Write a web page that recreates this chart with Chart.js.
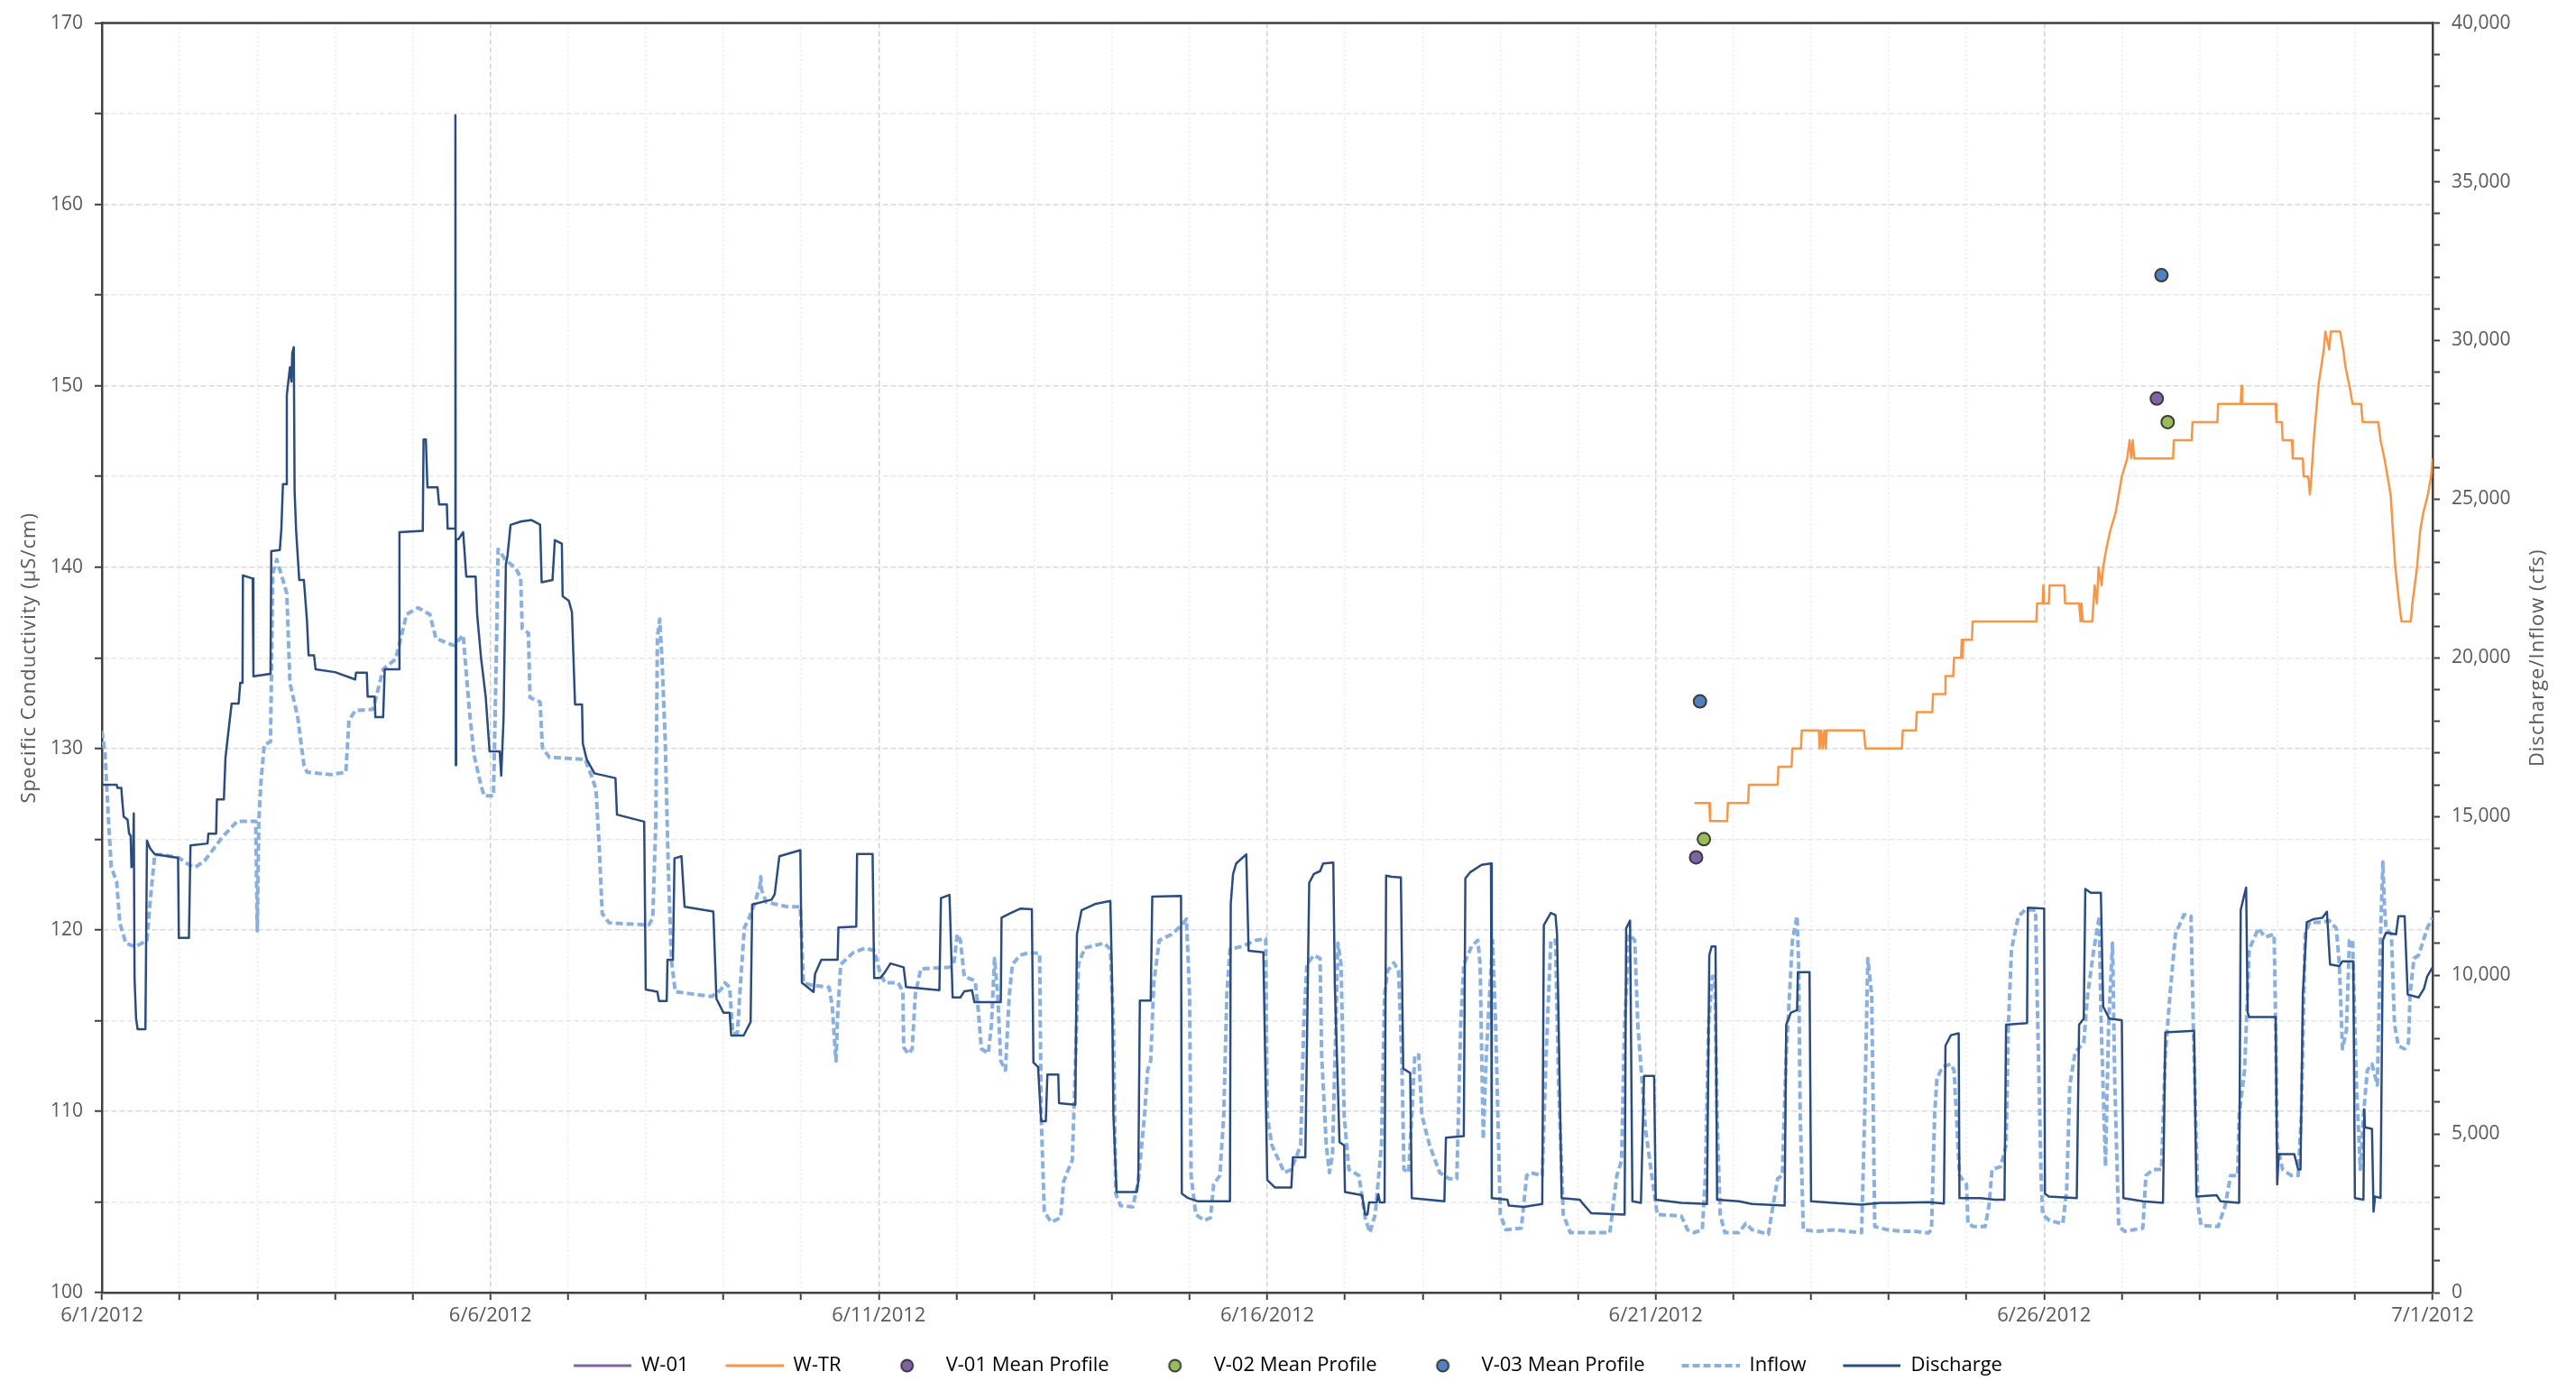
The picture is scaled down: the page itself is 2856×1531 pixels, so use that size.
<!DOCTYPE html>
<html>
<head>
<meta charset="utf-8">
<script src="https://cdn.jsdelivr.net/npm/chart.js@4.4.1/dist/chart.umd.min.js"></script>
<style>
html,body{margin:0;padding:0;background:#ffffff;}
#wrap{width:2856px;height:1531px;}
</style>
</head>
<body>
<div id="wrap"><canvas id="c" width="2856" height="1531" style="width:2856px;height:1531px"></canvas></div>
<script>
// ---------------- data (x = days after 6/1/2012 00:00) ----------------
const dateLabels = ['6/1/2012','6/6/2012','6/11/2012','6/16/2012','6/21/2012','6/26/2012','7/1/2012'];
const leftTitle = 'Specific Conductivity (\u00B5S/cm)';
const rightTitle = 'Discharge/Inflow (cfs)';
const seriesNames = ['W-01','W-TR','V-01 Mean Profile','V-02 Mean Profile','V-03 Mean Profile','Inflow','Discharge'];

// W-01 has no readable data in the chart
const w01 = [];

// W-TR specific conductivity (uS/cm)
const wtr = [
[20.5,127],[20.69,127],[20.7,126],[20.92,126],[20.93,127],[21.19,127],[21.2,128],[21.57,128],[21.58,129],[21.75,129],
[21.76,130],[21.87,130],[21.88,131],[22.1,131],[22.11,130],[22.13,131],[22.15,130],[22.17,131],[22.19,130],[22.2,131],
[22.68,131],[22.7,130],[23.17,130],[23.18,131],[23.35,131],[23.36,132],[23.56,132],[23.57,133],[23.72,133],[23.73,134],
[23.83,134],[23.84,135],[23.93,135],[23.94,136],[23.95,135],[23.96,136],[24.07,136],[24.08,137],[24.9,137],[24.91,138],
[24.98,138],[24.99,139],[25.0,138],[25.06,138],[25.07,139],[25.26,139],[25.27,138],[25.45,138],[25.47,137],[25.48,138],
[25.5,137],[25.62,137],[25.65,139],[25.68,138],[25.7,140],[25.74,139],[25.76,140],[25.8,141],[25.85,142],[25.92,143],
[25.96,144],[26.0,145],[26.07,146],[26.1,147],[26.12,146],[26.14,147],[26.16,146],[26.66,146],[26.67,147],[26.9,147],
[26.91,148],[27.23,148],[27.24,149],[27.53,149],[27.54,150],[27.55,149],[27.98,149],[27.99,148],[28.06,148],[28.07,147],
[28.19,147],[28.2,146],[28.33,146],[28.34,145],[28.4,145],[28.42,144],[28.44,145],[28.47,147],[28.53,150],[28.6,152],
[28.62,153],[28.67,152],[28.69,153],[28.81,153],[28.85,152],[28.88,151],[28.93,150],[28.97,149],[29.08,149],[29.1,148],
[29.3,148],[29.33,147],[29.38,146],[29.42,145],[29.46,144],[29.49,142],[29.52,140],[29.57,138],[29.6,137],[29.72,137],
[29.74,138],[29.8,140],[29.84,142],[29.88,143],[29.94,144],[29.98,145],[30.0,146]
];

// Vertical mean profiles (uS/cm)
const v01 = [[20.52,124.0],[26.45,149.3]];
const v02 = [[20.62,125.0],[26.59,148.0]];
const v03 = [[20.57,132.6],[26.51,156.1]];

// Inflow (cfs)
const inflow = [
[0,17700],[0.04,17000],[0.08,15100],[0.12,13400],[0.19,12950],[0.23,11650],[0.31,11000],[0.43,10900],[0.58,11100],[0.62,12300],
[0.68,13800],[0.78,13800],[0.99,13700],[1.12,13480],[1.2,13400],[1.32,13600],[1.55,14350],[1.74,14850],[1.98,14850],[2.0,11400],
[2.02,14900],[2.05,16180],[2.09,17260],[2.17,17360],[2.2,22660],[2.25,23100],[2.33,22450],[2.38,22020],[2.42,19210],[2.52,18130],
[2.6,16620],[2.64,16400],[2.95,16320],[3.14,16400],[3.18,18020],[3.26,18340],[3.49,18380],[3.62,19640],[3.78,19960],[3.88,20940],
[3.92,21370],[4.07,21580],[4.22,21370],[4.3,20610],[4.53,20390],[4.65,20720],[4.73,18340],[4.79,16940],[4.88,15970],[4.92,15650],
[5.04,15650],[5.08,20500],[5.1,23420],[5.19,23100],[5.33,22810],[5.39,22520],[5.41,20930],[5.49,20780],[5.51,18750],[5.64,18610],
[5.67,17160],[5.76,16870],[6.22,16800],[6.3,16290],[6.36,15850],[6.4,14110],[6.44,11940],[6.53,11650],[7.04,11580],[7.09,11800],
[7.13,14840],[7.15,20640],[7.18,21220],[7.21,19920],[7.25,17450],[7.29,13390],[7.33,10490],[7.38,9480],[7.85,9330],[7.97,9550],
[8.02,9760],[8.08,9620],[8.12,8170],[8.18,8170],[8.22,9760],[8.27,11500],[8.33,11800],[8.4,12250],[8.47,12810],[8.48,13100],
[8.49,12700],[8.55,12300],[8.82,12160],[8.99,12160],[9.03,9760],[9.13,9690],[9.36,9620],[9.4,9040],[9.44,7590],[9.45,7300],
[9.47,8750],[9.51,10340],[9.67,10710],[9.82,10850],[9.94,10780],[10.02,10050],[10.08,9760],[10.25,9760],[10.31,9480],[10.32,7730],
[10.38,7520],[10.43,7680],[10.47,9390],[10.54,10200],[10.91,10250],[10.97,10440],[11.01,11290],[11.05,11100],[11.1,9960],[11.24,9820],
[11.28,8920],[11.32,7680],[11.41,7540],[11.45,8440],[11.49,10530],[11.53,9390],[11.57,7300],[11.63,7010],[11.68,9390],[11.72,10340],
[11.82,10630],[11.95,10720],[12.07,10680],[12.09,5590],[12.13,2550],[12.22,2220],[12.34,2360],[12.38,3500],[12.44,3880],[12.49,4170],
[12.51,5590],[12.57,10340],[12.65,10860],[12.9,11010],[12.98,10820],[13.02,8440],[13.05,3120],[13.11,2740],[13.27,2700],[13.34,3500],
[13.42,5590],[13.46,7010],[13.5,7300],[13.54,9770],[13.61,11100],[13.77,11290],[13.9,11580],[13.96,11770],[14.0,9390],[14.02,3690],
[14.08,2460],[14.19,2270],[14.27,2360],[14.31,3410],[14.39,3690],[14.44,5590],[14.48,9390],[14.52,10820],[14.68,10910],[14.85,11100],
[14.98,11150],[15.0,5590],[15.06,4640],[15.22,3780],[15.31,3880],[15.43,4640],[15.47,8440],[15.51,10340],[15.6,10630],[15.68,10530],
[15.7,7490],[15.76,4640],[15.8,3780],[15.84,4350],[15.91,11010],[15.95,10340],[15.99,5590],[16.05,3880],[16.18,3690],[16.26,2360],
[16.32,1890],[16.39,2460],[16.47,4640],[16.51,9390],[16.55,10150],[16.63,10390],[16.69,10150],[16.73,7490],[16.76,3880],[16.82,3780],
[16.86,5590],[16.9,7490],[16.95,7490],[16.99,5590],[17.09,4640],[17.22,3780],[17.34,3590],[17.44,3590],[17.49,8440],[17.53,10340],
[17.63,10910],[17.71,11100],[17.74,10340],[17.78,4830],[17.82,7490],[17.9,11100],[17.94,8440],[18.0,2460],[18.07,1980],[18.27,2030],
[18.34,3690],[18.38,3780],[18.54,3690],[18.59,7490],[18.65,11100],[18.71,11100],[18.75,6540],[18.81,2460],[18.9,1890],[19.41,1890],
[19.5,3690],[19.56,4160],[19.6,8440],[19.66,11290],[19.73,11100],[19.77,8440],[19.87,5120],[19.95,3690],[20.02,2460],[20.33,2410],
[20.41,1980],[20.49,1890],[20.6,1980],[20.64,3690],[20.68,8440],[20.73,9960],[20.76,9960],[20.79,5590],[20.83,2460],[20.89,1890],
[21.07,1890],[21.16,2180],[21.24,1980],[21.45,1840],[21.51,2740],[21.57,3590],[21.63,3690],[21.68,7490],[21.76,11100],[21.82,11860],
[21.84,10340],[21.86,5590],[21.9,1980],[22.07,1930],[22.32,1980],[22.48,1930],[22.65,1890],[22.69,5590],[22.73,10530],[22.78,9390],
[22.82,2080],[22.98,1980],[23.17,1930],[23.33,1930],[23.51,1880],[23.55,1980],[23.59,5590],[23.62,6730],[23.69,7110],[23.8,7200],
[23.84,7010],[23.87,5590],[23.91,3690],[24.0,3410],[24.02,2170],[24.09,2080],[24.24,2080],[24.29,2740],[24.33,3880],[24.44,3970],
[24.51,4640],[24.54,8440],[24.58,10820],[24.67,11860],[24.76,12070],[24.89,12050],[24.91,9390],[24.96,3690],[24.98,2460],[25.07,2270],
[25.24,2170],[25.29,3220],[25.33,6540],[25.4,7580],[25.51,7870],[25.56,9390],[25.64,10820],[25.71,11860],[25.73,8820],[25.79,3970],
[25.83,8440],[25.88,11010],[25.91,6540],[25.96,2080],[26.04,1930],[26.27,2030],[26.31,3690],[26.4,3880],[26.51,3880],[26.56,7490],
[26.62,9390],[26.69,11290],[26.8,11910],[26.89,11860],[26.92,8440],[26.98,2740],[27.02,2120],[27.24,2080],[27.33,2740],[27.4,3690],
[27.49,3690],[27.51,5590],[27.58,7010],[27.64,10820],[27.76,11480],[27.84,11200],[27.96,11290],[27.98,8440],[28.0,4640],[28.07,3880],
[28.18,3690],[28.27,3690],[28.31,5590],[28.36,11290],[28.42,11670],[28.58,11670],[28.67,11720],[28.76,11480],[28.8,10340],[28.84,7680],
[28.89,8250],[28.93,11100],[28.97,11100],[29.02,6540],[29.07,3880],[29.11,5590],[29.16,7010],[29.22,7200],[29.29,6540],[29.33,11290],
[29.36,13570],[29.38,12200],[29.4,11480],[29.47,11290],[29.51,8440],[29.56,7770],[29.64,7680],[29.69,7870],[29.71,9390],[29.76,10530],
[29.82,10630],[29.87,11010],[29.93,11480],[30.0,11810]
];

// Discharge (cfs)
const discharge = [
[0,16000],[0.19,16000],[0.2,15900],[0.25,15900],[0.26,15540],[0.28,15000],[0.33,14900],[0.35,14460],[0.37,14400],[0.38,13400],
[0.4,13500],[0.41,15100],[0.42,9900],[0.44,8620],[0.46,8300],[0.56,8300],[0.58,14240],[0.62,14000],[0.68,13810],[0.98,13700],
[0.99,11180],[1.12,11180],[1.14,14090],[1.36,14150],[1.37,14460],[1.47,14460],[1.48,15540],[1.57,15540],[1.59,16840],[1.62,17500],
[1.67,18560],[1.76,18560],[1.78,19210],[1.81,19210],[1.815,22600],[1.94,22500],[1.95,19420],[2.17,19500],[2.18,23360],[2.29,23400],
[2.31,24070],[2.33,25470],[2.37,25470],[2.38,28280],[2.42,29150],[2.44,28700],[2.45,29600],[2.47,29790],[2.48,25260],[2.5,24000],
[2.54,22450],[2.6,22450],[2.64,21150],[2.66,20080],[2.73,20080],[2.75,19640],[3.0,19550],[3.26,19320],[3.27,19530],[3.41,19530],
[3.42,18780],[3.51,18780],[3.52,18130],[3.62,18130],[3.64,19640],[3.82,19640],[3.83,23960],[4.13,24000],[4.14,26880],[4.17,26880],
[4.19,25370],[4.32,25370],[4.34,24830],[4.44,24830],[4.45,24070],[4.545,24070],[4.55,37100],[4.555,16620],[4.56,23740],[4.59,23740],
[4.65,23960],[4.69,22560],[4.81,22560],[4.83,21370],[4.88,20000],[4.94,18780],[4.99,17050],[5.12,17050],[5.14,16290],[5.17,18100],
[5.2,22960],[5.22,23200],[5.26,24190],[5.4,24300],[5.53,24340],[5.64,24200],[5.66,22380],[5.8,22450],[5.83,23710],[5.92,23600],
[5.93,21940],[6.01,21800],[6.05,21440],[6.09,18530],[6.18,18530],[6.19,17300],[6.24,16800],[6.34,16360],[6.61,16210],[6.63,15060],
[6.98,14840],[7.0,9550],[7.15,9480],[7.17,9190],[7.27,9190],[7.28,10490],[7.35,10490],[7.37,13680],[7.46,13750],[7.5,12160],
[7.87,12010],[7.91,9260],[8.0,8820],[8.08,8820],[8.1,8100],[8.26,8100],[8.35,8530],[8.37,12230],[8.62,12380],[8.66,12550],
[8.72,13750],[8.99,13940],[9.01,9760],[9.16,9470],[9.18,10050],[9.26,10490],[9.47,10490],[9.48,11500],[9.71,11530],[9.72,13820],
[9.92,13820],[9.94,9910],[10.02,9910],[10.08,10100],[10.15,10370],[10.32,10250],[10.35,9630],[10.78,9530],[10.8,12430],[10.91,12530],
[10.95,9300],[11.05,9300],[11.1,9490],[11.2,9530],[11.23,9150],[11.57,9150],[11.58,11810],[11.7,11960],[11.82,12100],[11.97,12080],
[11.99,7250],[12.05,7110],[12.09,5400],[12.15,5400],[12.17,6870],[12.31,6870],[12.32,5970],[12.53,5920],[12.55,11290],[12.61,12050],
[12.78,12240],[12.98,12340],[13.0,10150],[13.02,5590],[13.06,3170],[13.32,3170],[13.34,3500],[13.36,9200],[13.5,9200],[13.52,12480],
[13.89,12500],[13.9,3120],[13.98,2980],[14.1,2880],[14.52,2880],[14.53,12240],[14.56,13190],[14.6,13520],[14.73,13810],[14.76,10770],
[14.95,10720],[15.0,3550],[15.1,3310],[15.31,3310],[15.33,4260],[15.49,4260],[15.54,12910],[15.6,13190],[15.68,13280],[15.72,13520],
[15.85,13550],[15.87,9680],[15.93,4740],[15.99,4640],[16.0,3170],[16.22,3070],[16.26,2460],[16.29,2460],[16.31,2840],[16.41,2840],
[16.43,3100],[16.45,2840],[16.51,2840],[16.53,13140],[16.6,13100],[16.72,13080],[16.75,7060],[16.84,6920],[16.86,2980],[17.28,2880],
[17.3,4880],[17.53,4930],[17.55,13050],[17.61,13240],[17.76,13480],[17.88,13520],[17.89,2980],[18.09,2930],[18.11,2740],[18.3,2700],
[18.54,2790],[18.56,11580],[18.65,11960],[18.71,11900],[18.73,11290],[18.79,2980],[19.02,2930],[19.05,2840],[19.17,2500],[19.6,2460],
[19.62,11480],[19.67,11720],[19.7,2880],[19.81,2830],[19.85,6830],[19.98,6830],[20.0,2930],[20.33,2830],[20.66,2790],[20.69,10630],
[20.72,10910],[20.77,10910],[20.79,2930],[21.07,2880],[21.24,2790],[21.66,2740],[21.68,8440],[21.74,8820],[21.82,8900],[21.83,10100],
[21.98,10100],[22.0,2880],[22.28,2830],[22.65,2770],[22.9,2830],[23.07,2830],[23.51,2850],[23.71,2810],[23.73,7780],[23.8,8110],
[23.9,8170],[23.91,2980],[24.18,2980],[24.36,2930],[24.49,2930],[24.51,8440],[24.78,8490],[24.79,12130],[25.0,12100],[25.01,3120],
[25.06,3030],[25.42,2980],[25.45,8440],[25.51,8630],[25.53,12720],[25.6,12600],[25.73,12600],[25.76,9010],[25.84,8630],[26.0,8580],
[26.02,2980],[26.27,2880],[26.53,2830],[26.56,8200],[26.93,8250],[26.96,3030],[27.22,3070],[27.27,2880],[27.51,2830],[27.53,12050],
[27.58,12570],[27.6,12760],[27.62,8820],[27.64,8680],[27.98,8680],[28.0,3410],[28.02,4360],[28.22,4360],[28.27,3880],[28.3,3880],
[28.33,9390],[28.38,11670],[28.47,11770],[28.58,11810],[28.64,12000],[28.68,10340],[28.8,10290],[28.84,10440],[28.98,10440],[29.0,2980],
[29.11,2930],[29.12,5780],[29.13,5210],[29.22,5160],[29.24,2550],[29.26,3030],[29.33,2980],[29.36,11100],[29.4,11340],[29.53,11290],
[29.56,11860],[29.64,11860],[29.68,9390],[29.82,9300],[29.89,9580],[29.93,9960],[30.0,10250]
];

// ---------------- chart ----------------
const FONT = "'Open Sans', 'DejaVu Sans', sans-serif";
const TEXT = '#595959';
const AXIS = '#404040';
const SW = 64;      // legend swatch length
const GAP = 21;     // extra space before each legend swatch
const toXY = arr => arr.map(p => ({x: p[0], y: p[1]}));

function lineSwatch(color, width, dash) {
  const c = document.createElement('canvas');
  c.width = SW + GAP; c.height = 8;
  const g = c.getContext('2d');
  g.strokeStyle = color; g.lineWidth = width; g.setLineDash(dash || []);
  g.beginPath(); g.moveTo(GAP, 4); g.lineTo(GAP + SW, 4); g.stroke();
  return c;
}
function dotSwatch(fill) {
  const c = document.createElement('canvas');
  c.width = SW + GAP; c.height = 20;
  const g = c.getContext('2d');
  g.fillStyle = fill; g.strokeStyle = '#3a3a3a'; g.lineWidth = 2;
  g.beginPath(); g.arc(GAP + SW / 2, 10, 6.5, 0, Math.PI * 2); g.fill(); g.stroke();
  return c;
}

const COLORS = {
  w01: '#8064A2', wtr: '#F79646', v01: '#7E63A6', v02: '#9BBB59', v03: '#4F81BD',
  inflow: '#8AB0E0', discharge: '#2B4C7E'
};

const legendSwatches = [
  lineSwatch(COLORS.w01, 3), lineSwatch(COLORS.wtr, 3),
  dotSwatch(COLORS.v01), dotSwatch(COLORS.v02), dotSwatch(COLORS.v03),
  lineSwatch(COLORS.inflow, 4, [8, 4]), lineSwatch(COLORS.discharge, 3)
];

const frameAndTitles = {
  id: 'frameAndTitles',
  afterDraw(chart) {
    const {ctx, chartArea: a} = chart;
    ctx.save();
    ctx.strokeStyle = AXIS; ctx.lineWidth = 2.5;
    ctx.beginPath(); ctx.moveTo(a.left, a.top); ctx.lineTo(a.right, a.top); ctx.stroke();
    const cy = (a.top + a.bottom) / 2;
    ctx.fillStyle = TEXT;
    ctx.font = "22px " + FONT;
    try { ctx.letterSpacing = '1px'; } catch (e) {}
    ctx.textAlign = 'center'; ctx.textBaseline = 'middle';
    ctx.save(); ctx.translate(a.left - 80, cy); ctx.rotate(-Math.PI / 2); ctx.fillText(leftTitle, 0, 0); ctx.restore();
    ctx.save(); ctx.translate(a.right + 117, cy); ctx.rotate(-Math.PI / 2); ctx.fillText(rightTitle, 0, 0); ctx.restore();
    ctx.restore();
  }
};

const xGridColor = c => (c.tick && Math.round(c.tick.value) % 5 === 0) ? '#D2D2DA' : '#E6EBEE';
const xGridDash = c => (c.tick && Math.round(c.tick.value) % 5 === 0) ? [6, 3] : [2, 3];
const yGridColor = c => (c.tick && Math.round(c.tick.value) % 10 === 0) ? '#DDD6DF' : '#E3EAED';

new Chart(document.getElementById('c'), {
  type: 'line',
  data: {
    datasets: [
      {label: seriesNames[0], data: toXY(w01), borderColor: COLORS.w01, borderWidth: 2.5, pointRadius: 0, yAxisID: 'y', order: 5},
      {label: seriesNames[1], data: toXY(wtr), borderColor: COLORS.wtr, borderWidth: 2.5, pointRadius: 0, yAxisID: 'y', order: 4, borderJoinStyle: 'round'},
      {type: 'scatter', label: seriesNames[2], data: toXY(v01), backgroundColor: COLORS.v01, borderColor: '#3a3a3a', borderWidth: 2, pointRadius: 7, yAxisID: 'y', order: 0},
      {type: 'scatter', label: seriesNames[3], data: toXY(v02), backgroundColor: COLORS.v02, borderColor: '#3a3a3a', borderWidth: 2, pointRadius: 7, yAxisID: 'y', order: 0},
      {type: 'scatter', label: seriesNames[4], data: toXY(v03), backgroundColor: COLORS.v03, borderColor: '#3a3a3a', borderWidth: 2, pointRadius: 7, yAxisID: 'y', order: 0},
      {label: seriesNames[5], data: toXY(inflow), borderColor: COLORS.inflow, borderWidth: 4, borderDash: [8, 4], pointRadius: 0, yAxisID: 'y1', order: 3, borderJoinStyle: 'round'},
      {label: seriesNames[6], data: toXY(discharge), borderColor: COLORS.discharge, borderWidth: 2.5, pointRadius: 0, yAxisID: 'y1', order: 2, borderJoinStyle: 'round'}
    ]
  },
  options: {
    responsive: false,
    devicePixelRatio: 1,
    animation: false,
    events: [],
    parsing: false,
    layout: {padding: {top: 21, left: 0, right: GAP, bottom: 0}},
    plugins: {
      tooltip: {enabled: false},
      legend: {
        position: 'bottom',
        maxHeight: 48,
        labels: {
          usePointStyle: true,
          pointStyleWidth: SW + GAP,
          boxHeight: 22,
          padding: 20,
          color: TEXT,
          font: {family: FONT, size: 22},
          generateLabels: () => seriesNames.map((name, i) => ({
            text: name, pointStyle: legendSwatches[i], fillStyle: 'rgba(0,0,0,0)',
            strokeStyle: 'rgba(0,0,0,0)', lineWidth: 0, hidden: false, datasetIndex: i
          }))
        }
      }
    },
    scales: {
      x: {
        type: 'linear', position: 'bottom', min: 0, max: 30,
        ticks: {
          stepSize: 1, maxTicksLimit: 31, autoSkip: false, maxRotation: 0, padding: 5,
          color: TEXT, font: {family: FONT, size: 22},
          callback: v => (Math.round(v) % 5 === 0) ? dateLabels[Math.round(v) / 5] : ''
        },
        grid: {color: xGridColor, lineWidth: 1.5, tickLength: 8, tickColor: AXIS, tickWidth: 2},
        border: {display: true, color: AXIS, width: 2.5, dash: xGridDash},
        afterFit: s => { s.height = 50; }
      },
      y: {
        type: 'linear', position: 'left', min: 100, max: 170,
        ticks: {
          stepSize: 5, maxTicksLimit: 15, autoSkip: false, padding: 13,
          color: TEXT, font: {family: FONT, size: 21},
          callback: v => (Math.round(v) % 10 === 0) ? String(Math.round(v)) : ''
        },
        grid: {color: yGridColor, lineWidth: 1.5, tickLength: 8, tickColor: AXIS, tickWidth: 2},
        border: {display: true, color: AXIS, width: 2.5, dash: [6, 3]},
        afterFit: s => { s.width = 113; }
      },
      y1: {
        type: 'linear', position: 'right', min: 0, max: 40000,
        ticks: {
          stepSize: 1000, maxTicksLimit: 41, autoSkip: false, padding: 13,
          color: TEXT, font: {family: FONT, size: 21},
          callback: v => (Math.round(v) % 5000 === 0) ? Math.round(v).toLocaleString('en-US') : ''
        },
        grid: {drawOnChartArea: false, tickLength: 8, tickColor: AXIS, tickWidth: 2, color: AXIS},
        border: {display: true, color: AXIS, width: 2.5},
        afterFit: s => { s.width = 159 - GAP; }
      }
    }
  },
  plugins: [frameAndTitles]
});
</script>
</body>
</html>
